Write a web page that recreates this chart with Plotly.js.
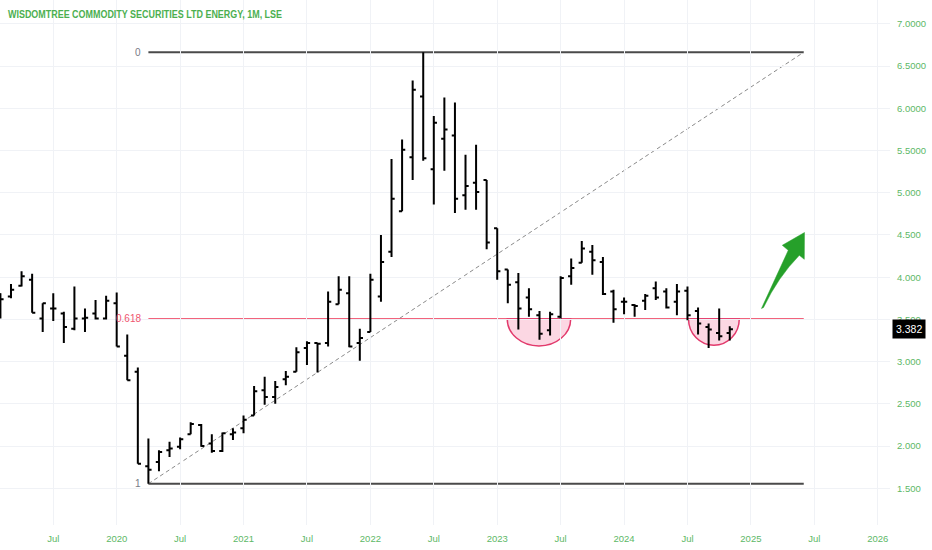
<!DOCTYPE html>
<html>
<head>
<meta charset="utf-8">
<script src="https://cdn.plot.ly/plotly-3.0.1.min.js"></script>
<style>
  html, body { margin: 0; padding: 0; background: #ffffff; }
  #chart { width: 932px; height: 550px; }
</style>
</head>
<body>
<div id="chart"></div>
<script>
// ---- data (monthly OHLC) ----
const months = [
  '2019-02','2019-03','2019-04','2019-05','2019-06','2019-07','2019-08','2019-09','2019-10','2019-11','2019-12',
  '2020-01','2020-02','2020-03','2020-04','2020-05','2020-06','2020-07','2020-08','2020-09','2020-10','2020-11','2020-12',
  '2021-01','2021-02','2021-03','2021-04','2021-05','2021-06','2021-07','2021-08','2021-09','2021-10','2021-11','2021-12',
  '2022-01','2022-02','2022-03','2022-04','2022-05','2022-06','2022-07','2022-08','2022-09','2022-10','2022-11','2022-12',
  '2023-01','2023-02','2023-03','2023-04','2023-05','2023-06','2023-07','2023-08','2023-09','2023-10','2023-11','2023-12',
  '2024-01','2024-02','2024-03','2024-04','2024-05','2024-06','2024-07','2024-08','2024-09','2024-10','2024-11'
];
const openP = [
  3.80,3.77,3.90,3.97,3.51,3.63,3.57,3.39,3.51,3.57,3.51,
  3.69,3.07,2.88,1.76,1.81,1.95,1.99,2.14,2.25,2.03,1.94,2.14,
  2.21,2.36,2.66,2.58,2.79,2.88,3.16,3.22,3.22,3.68,3.81,3.22,
  3.35,3.77,4.30,4.78,5.42,6.14,5.28,5.64,5.68,4.97,5.12,5.15,
  4.58,4.09,3.94,3.76,3.55,3.37,3.53,4.01,4.17,4.30,4.18,3.83,
  3.71,3.67,3.72,3.87,3.83,3.71,3.84,3.60,3.41,3.34,3.34
];
const highP = [
  3.81,3.92,4.07,4.04,3.69,3.81,3.59,3.89,3.63,3.73,3.78,
  3.82,3.32,2.93,2.09,1.95,2.05,2.10,2.28,2.26,2.14,2.16,2.21,
  2.36,2.71,2.82,2.77,2.89,3.17,3.24,3.22,3.83,4.01,4.01,3.39,
  4.04,4.50,5.40,5.63,6.33,6.665,5.91,6.13,6.07,5.45,5.57,5.15,
  4.58,4.09,4.05,3.87,3.60,3.59,4.01,4.22,4.43,4.38,4.24,3.85,
  3.76,3.68,3.80,3.95,3.87,3.92,3.89,3.64,3.45,3.63,3.42
];
const lowP = [
  3.51,3.75,3.89,3.58,3.35,3.48,3.22,3.37,3.35,3.50,3.50,
  3.18,2.78,1.79,1.553,1.70,1.87,1.96,2.14,1.99,1.92,1.93,2.07,
  2.15,2.36,2.49,2.50,2.72,2.88,2.96,2.87,3.18,3.68,3.17,3.01,
  3.35,3.71,4.24,4.78,5.15,5.38,4.86,5.26,4.76,4.80,4.80,4.33,
  3.97,3.69,3.38,3.53,3.26,3.31,3.51,3.91,4.17,4.03,3.79,3.46,
  3.56,3.53,3.61,3.73,3.63,3.55,3.49,3.32,3.16,3.25,3.25
];
const closeP = [
  3.74,3.85,4.01,3.58,3.69,3.63,3.41,3.51,3.52,3.51,3.72,
  3.18,2.78,1.79,1.72,1.93,1.97,2.08,2.26,2.00,1.94,2.15,2.16,
  2.31,2.65,2.58,2.70,2.82,3.11,3.22,3.21,3.71,3.85,3.18,3.28,
  3.97,4.18,4.93,5.51,6.22,5.41,5.83,5.75,4.93,5.08,5.01,4.41,
  4.07,3.91,3.63,3.62,3.33,3.56,3.99,4.11,4.34,4.20,3.80,3.62,
  3.71,3.66,3.78,3.76,3.64,3.83,3.55,3.45,3.38,3.30,3.382
];

// axis ticks
const tickMonths = ['2019-07','2020-01','2020-07','2021-01','2021-07','2022-01','2022-07',
                    '2023-01','2023-07','2024-01','2024-07','2025-01','2025-07','2026-01'];
const tickLabels = ['Jul','2020','Jul','2021','Jul','2022','Jul','2023','Jul','2024','Jul','2025','Jul','2026'];
const yTickVals = [1.5,2.0,2.5,3.0,3.5,4.0,4.5,5.0,5.5,6.0,6.5,7.0];
const yTickText = ['1.500','2.000','2.500','3.000','3.500','4.000','4.500','5.000','5.5000','6.0000','6.5000','7.0000'];

// Fibonacci drawing
const fibLevels = [0, 0.618, 1];
const fibLabels = ['0', '0.618', '1'];
const fibHigh = 6.665;
const fibLow = 1.553;
const fibStart = '2020-04';
const fibEnd = '2025-06';

// cup (rounded bottom) zones, in bar units
const cupFrom = [36.95, 54.1];
const cupTo = [42.95, 58.9];
const cupBottom = [3.185, 3.193];

const title = 'WISDOMTREE COMMODITY SECURITIES LTD ENERGY, 1M, LSE';

// ---- helpers ----
function monthIndex(s) {
  const p = s.split('-').map(Number);
  return (p[0] - 2020) * 12 + (p[1] - 1);
}
const xs = months.map(monthIndex);
const tickPos = tickMonths.map(monthIndex);
const fibPrice = l => fibHigh - l * (fibHigh - fibLow);
const xA = monthIndex(fibStart), xB = monthIndex(fibEnd);
const lastPrice = closeP[closeP.length - 1];

const W = 932, H = 550, ML = 0, MR = 42, MT = 0, MB = 25;
const PW = W - ML - MR, PH = H - MT - MB;

const green = '#4caf50';
const tickGreen = '#5db866';
const fibRed = '#ee2f50';

const shapes = [];
const annotations = [];

// fib lines + labels
fibLevels.forEach((l, i) => {
  const p = fibPrice(l);
  const isRed = Math.abs(l - 0.618) < 1e-6;
  shapes.push({
    type: 'line', xref: 'x', yref: 'y', x0: xA, x1: xB, y0: p, y1: p,
    line: { color: isRed ? fibRed : '#4a4a4a', width: isRed ? 1.5 : 1.8 }, layer: 'below'
  });
  annotations.push({
    xref: 'x', yref: 'y', x: xA, y: p, text: fibLabels[i], showarrow: false,
    xanchor: 'right', yanchor: 'middle', xshift: -5,
    font: { family: 'Liberation Sans, Arial, sans-serif', size: 10, color: isRed ? '#ef5670' : '#787b86' }
  });
});

// trend (diagonal) line
shapes.push({
  type: 'line', xref: 'x', yref: 'y', x0: xA, y0: fibLow, x1: xB, y1: fibHigh,
  line: { color: '#8a8a8a', width: 1, dash: '4px,3px' }, layer: 'below'
});

// cups
const lvl = fibPrice(0.618);
for (let i = 0; i < cupFrom.length; i++) {
  const x0 = cupFrom[i], x1 = cupTo[i], cx = (x0 + x1) / 2, r = (x1 - x0) / 2;
  const d = lvl - cupBottom[i], k = 0.5523;
  const path = `M ${x0},${lvl} C ${x0},${lvl - k * d} ${cx - k * r},${cupBottom[i]} ${cx},${cupBottom[i]} ` +
               `C ${cx + k * r},${cupBottom[i]} ${x1},${lvl - k * d} ${x1},${lvl} Z`;
  shapes.push({
    type: 'path', xref: 'x', yref: 'y', path: path,
    fillcolor: 'rgba(245,140,175,0.35)', line: { color: '#e23a6c', width: 1.5 }, layer: 'below'
  });
}

// green arrow (drawn in paper coordinates, from pixel positions)
function P(x, y) { return ((x - ML) / PW).toFixed(4) + ',' + (1 - (y - MT) / PH).toFixed(4); }
const arrowPath =
  'M ' + P(761.5, 308.5) +
  ' L ' + P(788.3, 250.3) +
  ' L ' + P(782.3, 245.3) +
  ' L ' + P(804.5, 232.5) +
  ' L ' + P(804.3, 259.3) +
  ' L ' + P(799.3, 255.3) +
  ' Q ' + P(778, 277) + ' ' + P(763.5, 307.5) + ' Z';
shapes.push({
  type: 'path', xref: 'paper', yref: 'paper', path: arrowPath,
  fillcolor: '#26a02a', line: { color: '#26a02a', width: 0.5 }, layer: 'above'
});

// title
annotations.push({
  xref: 'paper', yref: 'paper', x: 0, y: 1, xanchor: 'left', yanchor: 'middle',
  xshift: 6, yshift: -14, showarrow: false, text: title,
  font: { family: 'Liberation Sans, Arial, sans-serif', size: 10.5, color: green, weight: 'bold' }
});

// last price tag
annotations.push({
  xref: 'paper', yref: 'y', x: 1, y: lastPrice, xanchor: 'left', yanchor: 'middle',
  xshift: 2, showarrow: false, text: lastPrice.toFixed(3),
  bgcolor: '#000000', borderpad: 3,
  font: { family: 'Liberation Sans, Arial, sans-serif', size: 10.5, color: '#ffffff' }
});

const trace = {
  type: 'ohlc', x: xs, open: openP, high: highP, low: lowP, close: closeP,
  increasing: { line: { color: '#000000', width: 2 } },
  decreasing: { line: { color: '#000000', width: 2 } },
  tickwidth: 0.3, hoverinfo: 'skip', showlegend: false
};

const layout = {
  width: W, height: H,
  margin: { l: ML, r: MR, t: MT, b: MB, pad: 0 },
  paper_bgcolor: '#ffffff', plot_bgcolor: '#ffffff',
  showlegend: false,
  xaxis: {
    type: 'linear', range: [-11.04, 73.16], rangeslider: { visible: false },
    tickmode: 'array', tickvals: tickPos, ticktext: tickLabels,
    showgrid: true, gridcolor: '#f0f2f6', gridwidth: 1,
    zeroline: false, showline: false, ticks: '',
    ticklabelstandoff: 6,
    tickfont: { family: 'Liberation Sans, Arial, sans-serif', size: 9.5, color: tickGreen },
    fixedrange: true
  },
  yaxis: {
    side: 'right', range: [1.064, 7.284],
    tickmode: 'array', tickvals: yTickVals, ticktext: yTickText,
    showgrid: true, gridcolor: '#f0f2f6', gridwidth: 1,
    zeroline: false, showline: false, ticks: '',
    ticklabelstandoff: 6,
    tickfont: { family: 'Liberation Sans, Arial, sans-serif', size: 9.5, color: tickGreen },
    fixedrange: true
  },
  shapes: shapes,
  annotations: annotations
};

Plotly.newPlot('chart', [trace], layout, { displayModeBar: false, staticPlot: true }).then(function (gd) {
  // condense the title to the reference width (left edge kept) while keeping it as real text
  const targetW = 274;
  gd.querySelectorAll('.annotation-text').forEach(function (t) {
    if (t.textContent === title) {
      const w0 = t.getComputedTextLength();
      const x0 = parseFloat(t.getAttribute('x')) || 0;
      t.setAttribute('x', String(x0 - (w0 - targetW) / 2));
      t.setAttribute('textLength', String(targetW));
      t.setAttribute('lengthAdjust', 'spacingAndGlyphs');
    }
  });
});
</script>
</body>
</html>
